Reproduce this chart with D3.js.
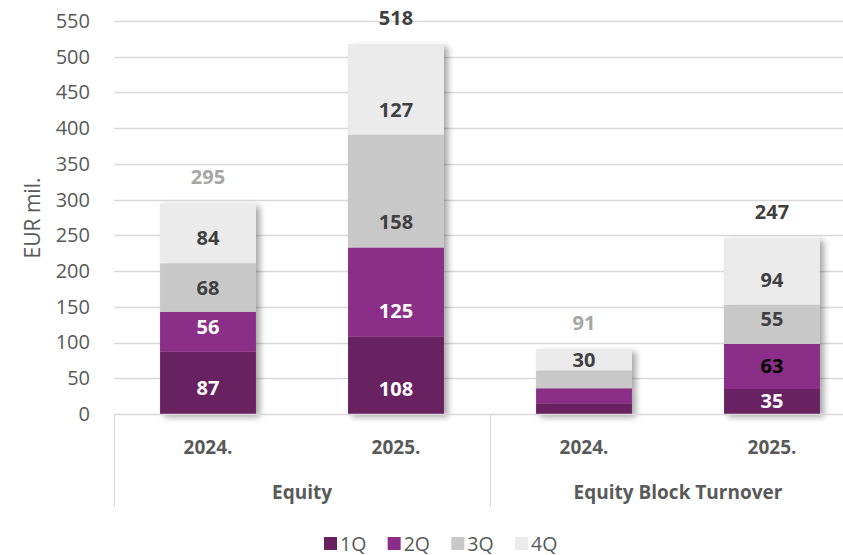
<!DOCTYPE html>
<html>
<head>
<meta charset="utf-8">
<script src="https://cdn.jsdelivr.net/npm/d3@7"></script>
<style>
  body { margin: 0; background: #fff; }
  svg { display: block; font-family: "Open Sans", sans-serif; }
</style>
</head>
<body>
<div id="chart"></div>
<script>
// Chart data
var groups = ["Equity", "Equity Block Turnover"];
var years = ["2024.", "2025."];
var quarters = ["1Q", "2Q", "3Q", "4Q"];
var q1 = [87, 108, 15, 35];
var q2 = [56, 125, 21, 63];
var q3 = [68, 158, 25, 55];
var q4 = [84, 127, 30, 94];
var totals = [295, 518, 91, 247];
var yTicks = [0, 50, 100, 150, 200, 250, 300, 350, 400, 450, 500, 550];
// labels hidden in the source (bar index, quarter index)
var hiddenLabels = ["2-0", "2-1", "2-2"];

// Colors
var colors = ["#682262", "#8b2d87", "#c8c8c8", "#ebebeb"];
var labelColors = [
  ["#fff", "#fff", "#fff", "#fff"],
  ["#fff", "#fff", "#fff", "#000"],
  ["#404040", "#404040", "#404040", "#404040"],
  ["#404040", "#404040", "#404040", "#404040"]
];
var totalColors = ["#a6a6a6", "#404040", "#a6a6a6", "#404040"];

// label nudges (px) to follow where the source placed some labels
var labelNudge = { "0-0": 5, "0-1": -5, "0-3": 5, "1-0": 14, "1-1": 19, "1-2": 31, "1-3": 21, "3-2": -5, "3-3": 9 };

// svg dimension
var svgWidth = 843;
var svgHeight = 555;

var plotLeft = 114;
var plotRight = 866;
var plotTop = 21;
var plotBottom = 414;

var svg = d3.select("#chart")
  .append("svg")
  .attr("width", svgWidth)
  .attr("height", svgHeight);

var defs = svg.append("defs");
defs.append("filter")
  .attr("id", "shadow")
  .attr("x", "-20%").attr("y", "-20%")
  .attr("width", "150%").attr("height", "150%")
  .append("feDropShadow")
  .attr("dx", 4).attr("dy", 3)
  .attr("stdDeviation", 3)
  .attr("flood-color", "#000")
  .attr("flood-opacity", 0.35);

// build bar rows
var bars = [];
groups.forEach(function(g, gi) {
  years.forEach(function(yr, yi) {
    var i = gi * years.length + yi;
    bars.push({ key: g + "|" + yr, group: g, year: yr, index: i,
      values: [q1[i], q2[i], q3[i], q4[i]], total: totals[i] });
  });
});

// scales
var x = d3.scaleBand()
  .domain(bars.map(d => d.key))
  .range([plotLeft, plotRight])
  .paddingInner(0.49)
  .paddingOuter(0.245);

var y = d3.scaleLinear()
  .domain([0, 550])
  .range([plotBottom, plotTop]);

// gridlines
svg.append("g")
  .selectAll("line")
  .data(yTicks.filter(d => d > 0))
  .enter()
  .append("line")
  .attr("x1", plotLeft)
  .attr("x2", svgWidth)
  .attr("y1", d => Math.round(y(d)) + 0.5)
  .attr("y2", d => Math.round(y(d)) + 0.5)
  .attr("stroke", "#d9d9d9")
  .attr("stroke-width", 1.3);

// y axis labels
var yAxis = d3.axisLeft(y).tickValues(yTicks).tickSize(0).tickPadding(0);
var yAxisG = svg.append("g")
  .attr("transform", "translate(90,0)")
  .call(yAxis);
yAxisG.select(".domain").remove();
yAxisG.selectAll("text")
  .attr("font-family", "Open Sans, sans-serif")
  .attr("font-size", 20)
  .attr("fill", "#595959");

svg.append("text")
  .attr("transform", "translate(40," + 218 + ") rotate(-90)")
  .attr("text-anchor", "middle")
  .attr("font-size", 21)
  .attr("fill", "#595959")
  .text("EUR mil.");

// stacked bars
var stack = d3.stack()
  .keys([0, 1, 2, 3])
  .value((d, k) => d.values[k]);
var series = stack(bars);

var barGroups = svg.selectAll(".bar")
  .data(bars)
  .enter()
  .append("g")
  .attr("class", "bar")
  .attr("filter", "url(#shadow)");

barGroups.selectAll("rect")
  .data(d => series.map(s => ({ k: s.key, y0: s[d.index][0], y1: s[d.index][1], bar: d })))
  .enter()
  .append("rect")
  .attr("x", d => x(d.bar.key))
  .attr("width", x.bandwidth())
  .attr("y", d => y(d.y1))
  .attr("height", d => y(d.y0) - y(d.y1))
  .attr("fill", d => colors[d.k]);

// segment labels
var segs = [];
series.forEach(function(s) {
  s.forEach(function(p, i) {
    if (hiddenLabels.indexOf(i + "-" + s.key) < 0) {
      segs.push({ k: s.key, i: i, y0: p[0], y1: p[1], bar: bars[i] });
    }
  });
});

svg.append("g")
  .selectAll("text")
  .data(segs)
  .enter()
  .append("text")
  .attr("x", d => x(d.bar.key) + x.bandwidth() / 2)
  .attr("y", d => (y(d.y0) + y(d.y1)) / 2 + 7 + (labelNudge[d.i + "-" + d.k] || 0))
  .attr("text-anchor", "middle")
  .attr("font-size", 20)
  .attr("font-weight", "bold")
  .attr("fill", d => labelColors[d.k][d.i])
  .text(d => d.bar.values[d.k]);

// totals
svg.append("g")
  .selectAll("text")
  .data(bars)
  .enter()
  .append("text")
  .attr("x", d => x(d.key) + x.bandwidth() / 2)
  .attr("y", d => y(d.total) - 19)
  .attr("text-anchor", "middle")
  .attr("font-size", 20)
  .attr("font-weight", "bold")
  .attr("fill", d => totalColors[d.index])
  .text(d => d.total);

// category axis
var axisG = svg.append("g");
axisG.append("line")
  .attr("x1", plotLeft).attr("x2", svgWidth)
  .attr("y1", plotBottom + 0.5).attr("y2", plotBottom + 0.5)
  .attr("stroke", "#d9d9d9").attr("stroke-width", 1.3);

var step = x.step();
var groupEdges = [0, 2, 4].map(n => plotLeft + n * step);
axisG.selectAll(".sep")
  .data(groupEdges)
  .enter()
  .append("line")
  .attr("x1", d => Math.round(d) + 0.5)
  .attr("x2", d => Math.round(d) + 0.5)
  .attr("y1", plotBottom)
  .attr("y2", 507)
  .attr("stroke", "#d9d9d9")
  .attr("stroke-width", 1.3);

axisG.selectAll(".year")
  .data(bars)
  .enter()
  .append("text")
  .attr("x", d => x(d.key) + x.bandwidth() / 2)
  .attr("y", 454)
  .attr("text-anchor", "middle")
  .attr("font-size", 19)
  .attr("font-weight", "bold")
  .attr("fill", "#595959")
  .text(d => d.year);

axisG.selectAll(".grp")
  .data(groups)
  .enter()
  .append("text")
  .attr("x", (d, i) => (groupEdges[i] + groupEdges[i + 1]) / 2)
  .attr("y", 499)
  .attr("text-anchor", "middle")
  .attr("font-size", 19)
  .attr("font-weight", "bold")
  .attr("fill", "#595959")
  .text(d => d);

// legend
var legendX = d3.scalePoint()
  .domain(quarters)
  .range([324, 515]);

var legend = svg.append("g")
  .selectAll("g")
  .data(quarters)
  .enter()
  .append("g")
  .attr("transform", d => "translate(" + legendX(d) + ",537)");

legend.append("rect")
  .attr("width", 13)
  .attr("height", 13)
  .attr("fill", (d, i) => colors[i]);

legend.append("text")
  .attr("x", 16)
  .attr("y", 13.5)
  .attr("font-size", 19.5)
  .attr("fill", "#595959")
  .text(d => d);
</script>
</body>
</html>
